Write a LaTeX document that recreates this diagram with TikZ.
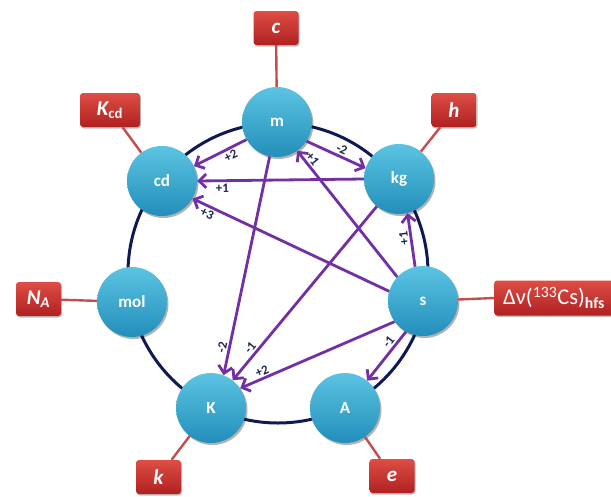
\documentclass[tikz,border=0pt]{standalone}
\usepackage{fontspec}
\setmainfont{Carlito}
\usetikzlibrary{arrows.meta,shadows}
\definecolor{bluetop}{RGB}{92,196,226}
\definecolor{bluebot}{RGB}{34,142,186}
\definecolor{redtop}{RGB}{222,78,70}
\definecolor{redbot}{RGB}{176,32,32}
\definecolor{tiered}{RGB}{196,78,76}
\definecolor{ringnavy}{RGB}{16,26,82}
\definecolor{relpurple}{RGB}{115,48,165}
\definecolor{labnavy}{RGB}{28,38,80}
\begin{document}
\begin{tikzpicture}[x=1pt,y=-1pt,
  unit/.style={circle, minimum size=70pt, inner sep=0pt, top color=bluetop, bottom color=bluebot,
    text=white, font=\fontsize{17}{17}\selectfont\bfseries,
    drop shadow={shadow xshift=1.5pt, shadow yshift=-2pt, opacity=0.3, fill=black}},
  const/.style={rounded corners=3pt, minimum height=34pt, minimum width=45pt, inner sep=2pt,
    top color=redtop, bottom color=redbot, text=white, font=\fontsize{21}{21}\selectfont\bfseries\itshape,
    drop shadow={shadow xshift=1pt, shadow yshift=-1.5pt, opacity=0.25, fill=black}},
  tie/.style={draw=tiered, line width=2.4pt},
  ring/.style={draw=ringnavy, line width=3pt},
  rel/.style={draw=relpurple, line width=2.8pt, -{Straight Barb[length=7pt,width=14pt]}},
  lab/.style={font=\fontsize{13}{13}\selectfont\bfseries, text=labnavy, sloped, inner sep=1.5pt}]
\useasboundingbox (0,0) rectangle (611,496);
\fill[white] (0,0) rectangle (611,496);

% ring
\draw[ring] (278,273) circle[radius=150];

% unit nodes
\node[unit] (m)   at (277,122) {m};
\node[unit] (kg)  at (399,179) {kg};
\node[unit] (s)   at (423,301) {s};
\node[unit] (A)   at (345,408) {A};
\node[unit] (K)   at (211,408) {K};
\node[unit] (mol) at (132,302) {mol};
\node[unit] (cd)  at (162,181) {cd};

% constant boxes
\node[const] (c)   at (276,28)  {c};
\node[const] (h)   at (454,110) {h};
\node[const, minimum width=60pt] (Kcd) at (110,110) {K\textsubscript{\upshape cd}};
\node[const] (NA)  at (38.5,299) {N\textsubscript{A}};
\node[const] (k)   at (158.5,477) {k};
\node[const] (e)   at (392,476) {e};
\node[const, anchor=west, inner xsep=9pt, minimum height=35pt, font=\fontsize{22.5}{22.5}\selectfont] (dv) at (494,298)
  {Δν(\textsuperscript{133}Cs)\textsubscript{\bfseries hfs}};

% ties
\draw[tie] (c) -- (m);
\draw[tie] (h) -- (kg);
\draw[tie] (Kcd) -- (cd);
\draw[tie] (NA) -- (mol);
\draw[tie] (dv.west) -- (s);
\draw[tie] (k) -- (K);
\draw[tie] (e) -- (A);

% relations
\draw[rel] (m.210) -- node[lab, pos=0.36, below] {+2} (cd.25);
\draw[rel] (kg.180) -- node[lab, pos=0.85, below] {+1} (cd.0);
\draw[rel] (s.164) -- node[lab, pos=0.91, below] {+3} (cd.-30);
\draw[rel] (m.-33) -- node[lab, pos=0.55, above] {-2} (kg.162);
\draw[rel] (s.137) -- node[lab, pos=0.9, above] {+1} (m.-55);
\draw[rel] (s.103) -- node[lab, pos=0.55, allow upside down, above] {+1} (kg.-76);
\draw[rel] (m.-102) -- node[lab, pos=0.88, above] {-2} (K.69);
\draw[rel] (kg.231) -- node[lab, pos=0.84, above] {-1} (K.52);
\draw[rel] (s.216) -- node[lab, pos=0.84, above] {+2} (K.34);
\draw[rel] (s.241) -- node[lab, pos=0.3, above] {-1} (A.51);
\end{tikzpicture}
\end{document}
